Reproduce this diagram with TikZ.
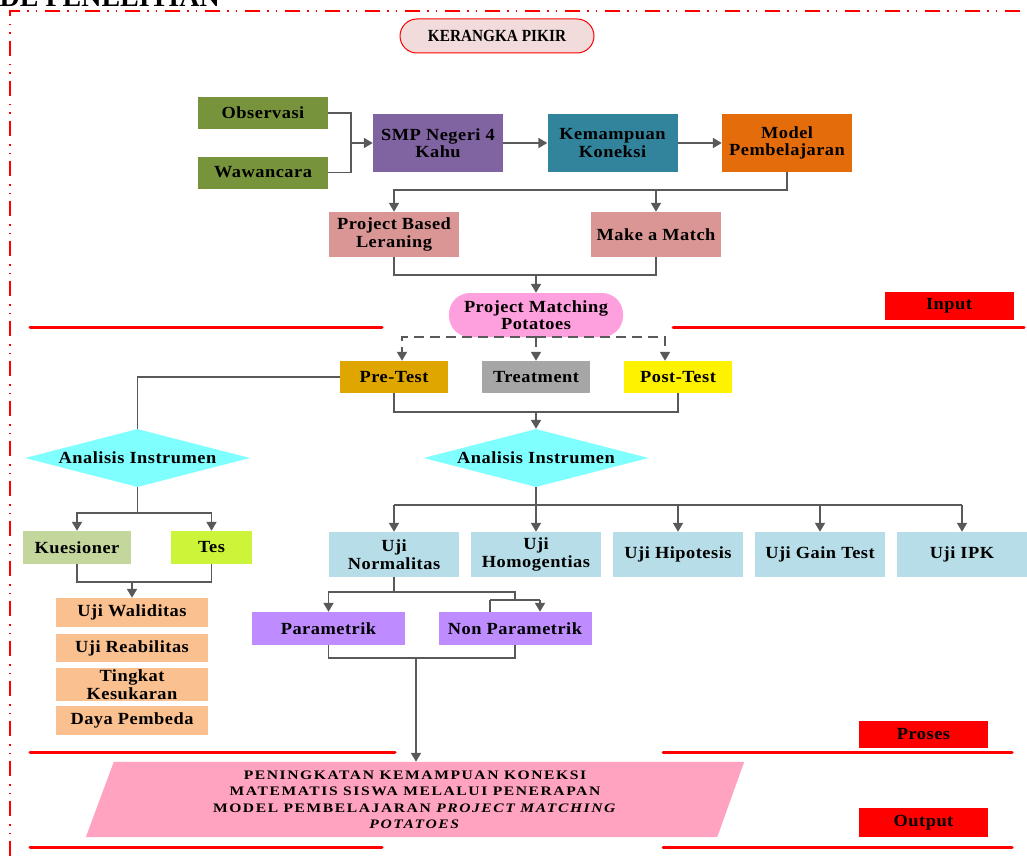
\documentclass[tikz,border=0pt]{standalone}
\usepackage{fontspec}
\setmainfont{Liberation Serif}
\newfontfamily\boxfont{Liberation Serif}[FakeStretch=1.08, LetterSpace=3]
\newfontfamily\titlefont{Liberation Serif}[FakeStretch=0.9]
\newfontfamily\outfont{Liberation Serif}[FakeStretch=1.2, LetterSpace=12]
\usepackage{tikz}
\usetikzlibrary{shapes.geometric, arrows.meta, backgrounds}

\definecolor{olivegreen}{RGB}{119,147,60}
\definecolor{violetbox}{RGB}{128,100,162}
\definecolor{tealbox}{RGB}{49,132,155}
\definecolor{orangebox}{RGB}{228,108,10}
\definecolor{rosebox}{RGB}{217,150,148}
\definecolor{pinkpmp}{RGB}{255,160,222}
\definecolor{goldbox}{RGB}{224,166,0}
\definecolor{greybox}{RGB}{166,166,166}
\definecolor{cyanbox}{RGB}{128,255,255}
\definecolor{sagebox}{RGB}{195,214,155}
\definecolor{limebox}{RGB}{204,245,58}
\definecolor{tanbox}{RGB}{250,192,144}
\definecolor{skybox}{RGB}{183,222,232}
\definecolor{lilacbox}{RGB}{190,140,255}
\definecolor{outpink}{RGB}{255,163,192}
\definecolor{titlepink}{RGB}{242,220,219}
\definecolor{linegrey}{RGB}{89,89,89}

\begin{document}
\begin{tikzpicture}[
        x=1pt, y=-1pt,
        box/.style={rectangle, inner sep=1pt, align=center, text=black,
          font=\boxfont\bfseries\fontsize{17}{17.5}\selectfont},
        srcbox/.style={box, fill=olivegreen, minimum width=130pt, minimum height=32pt},
        topbox/.style={box, minimum width=130pt, minimum height=58pt},
        midbox/.style={box, fill=rosebox, minimum width=130pt, minimum height=45pt},
        testbox/.style={box, minimum width=108pt, minimum height=32pt},
        diam/.style={diamond, fill=cyanbox, aspect=3.88, inner sep=0pt,
          minimum width=225pt, minimum height=58pt, align=center,
          font=\boxfont\bfseries\fontsize{17}{17.5}\selectfont},
        tanrow/.style={box, fill=tanbox, minimum width=152pt},
        ujibox/.style={box, fill=skybox, minimum width=130pt, minimum height=45pt},
        lilac/.style={box, fill=lilacbox, minimum width=153pt, minimum height=33pt},
        tag/.style={box, fill=red, minimum width=129pt, minimum height=28pt},
        line/.style={draw=linegrey, line width=1.8pt},
        arrow/.style={line, -{Triangle[width=10pt, length=9pt]}},
        darrow/.style={arrow, dash pattern=on 10pt off 6pt},
        redline/.style={draw=red, line width=3pt, line cap=round},
        border/.style={draw=red, line width=1.8pt,
          dash pattern=on 15pt off 7pt on 1.5pt off 7pt on 1.5pt off 8pt}]

      \clip (0,0) rectangle (1027,856);

      \node[anchor=base east, inner sep=0pt, font=\bfseries\fontsize{28}{30}\selectfont] (head) at (220,7) {METODE PENELITIAN};
      \draw[border] (10,856) -- (10,11) -- (1040,11);

      \node[rectangle, rounded corners=17pt, draw=red, line width=1pt, fill=titlepink,
        minimum width=194pt, minimum height=34pt,
        font=\titlefont\bfseries\fontsize{17}{18}\selectfont] (title) at (497,36) {KERANGKA PIKIR};

      \node[srcbox] (obs) at (263,113) {Observasi};
      \node[srcbox] (waw) at (263,172.5) {Wawancara};

      \node[topbox, fill=violetbox] (smp) at (438,143) {SMP Negeri 4\\Kahu};
      \node[topbox, fill=tealbox] (kon) at (612.5,143) {Kemampuan\\Koneksi};
      \node[topbox, fill=orangebox] (mod) at (787,143) {Model\\Pembelajaran};

      \node[midbox] (pbl) at (394,234.5) {Project Based\\Leraning};
      \node[midbox] (mam) at (656,234.5) {Make a Match};

      \node[box, fill=pinkpmp, rounded corners=21pt, minimum width=174pt, minimum height=44pt] (pmp) at (536,315) {Project Matching\\Potatoes};

      \node[testbox, fill=goldbox] (pre) at (394,377) {Pre-Test};
      \node[testbox, fill=greybox] (treat) at (536,377) {Treatment};
      \node[testbox, fill=yellow] (post) at (678,377) {Post-Test};

      \node[diam] (ai1) at (137.5,458) {Analisis Instrumen};
      \node[diam] (ai2) at (536,458) {Analisis Instrumen};

      \node[box, fill=sagebox, minimum width=108pt, minimum height=33pt] (kues) at (77,547.5) {Kuesioner};
      \node[box, fill=limebox, minimum width=81pt, minimum height=33pt] (tes) at (211.5,547.5) {Tes};

      \node[tanrow, minimum height=29pt] (wal) at (132,612.5) {Uji Waliditas};
      \node[tanrow, minimum height=28pt] (rea) at (132,648) {Uji Reabilitas};
      \node[tanrow, minimum height=33pt] (ting) at (132,684.5) {Tingkat\\Kesukaran};
      \node[tanrow, minimum height=29pt] (daya) at (132,720.5) {Daya Pembeda};

      \node[ujibox] (un) at (394,554.5) {Uji\\Normalitas};
      \node[ujibox] (uh) at (536,554.5) {Uji\\Homogentias};
      \node[ujibox] (uhip) at (678,554.5) {Uji Hipotesis};
      \node[ujibox] (ugain) at (820,554.5) {Uji Gain Test};
      \node[ujibox] (ipk) at (962,554.5) {Uji IPK};

      \node[lilac] (par) at (328.5,628.5) {Parametrik};
      \node[lilac] (npar) at (515,628.5) {Non Parametrik};

      \node[rectangle, inner sep=0pt, align=center, minimum width=630pt, minimum height=75pt,
        font=\outfont\bfseries\fontsize{13}{16.5}\selectfont] (out) at (415,799.5)
        {PENINGKATAN KEMAMPUAN KONEKSI\\MATEMATIS SISWA MELALUI PENERAPAN\\MODEL PEMBELAJARAN \textit{PROJECT MATCHING}\\\textit{POTATOES}};
      \begin{scope}[on background layer]
        \fill[outpink] ([xshift=14pt]out.north west) -- ([xshift=14pt]out.north east)
          -- ([xshift=-13pt]out.south east) -- ([xshift=-14pt]out.south west) -- cycle;
      \end{scope}

      \node[tag] (input) at (949,306) {Input};
      \node[tag, minimum height=27pt] (proses) at (923.5,734.5) {Proses};
      \node[tag, minimum height=29pt] (output) at (923.5,822.5) {Output};

      \draw[redline] (30,327) -- (382,327);
      \draw[redline] (673,327) -- (1024,327);
      \draw[redline] (30,752) -- (395,752);
      \draw[redline] (663,752) -- (1012,752);
      \draw[redline] (30,847) -- (382,847);
      \draw[redline] (663,847) -- (1012,847);

      \coordinate (jin) at (351,143);
      \draw[line] (obs.east) -| (jin);
      \draw[line] (waw.east) -| (jin);
      \draw[arrow] (jin) -- (smp.west);
      \foreach \a/\b in {smp/kon, kon/mod}
        \draw[arrow] (\a.east) -- (\b.west);

      \coordinate (jtop) at (656,190);
      \draw[arrow] (mod.south) |- (jtop) -| (pbl.north);
      \draw[arrow] (jtop) -- (mam.north);
      \coordinate (jpmp) at (536,275);
      \draw[line] (pbl.south) |- (jpmp) -| (mam.south);
      \draw[arrow] (jpmp) -- (pmp.north);

      \coordinate (dl) at (402,339);
      \coordinate (dr) at (665,339);
      \draw[darrow] (pmp.south) -| (dl |- pre.north);
      \draw[darrow] (pmp.south) -| (dr |- post.north);
      \draw[darrow] (pmp.south) -- (treat.north);

      \coordinate (jtest) at (536,412);
      \draw[line] (pre.south) |- (jtest) -| (post.south);
      \draw[arrow] (jtest) -- (ai2.north);
      \draw[line] (pre.west) -| (ai1.north);

      \coordinate (jleft) at (137.5,513);
      \draw[line] (ai1.south) -- (jleft);
      \foreach \t in {kues, tes}
        \draw[arrow] (jleft) -| (\t.north);
      \coordinate (jkt) at (132,582);
      \draw[line] (kues.south) |- (jkt) -| (tes.south);
      \draw[arrow] (jkt) -- (wal.north);

      \coordinate (jbus) at (536,505);
      \draw[line] (ai2.south) -- (jbus);
      \draw[line] (un.north |- jbus) -- (ipk.north |- jbus);
      \foreach \t in {un, uh, uhip, ugain, ipk}
        \draw[arrow] (\t.north |- jbus) -- (\t.north);

      \coordinate (jn) at (394,592);
      \coordinate (jnl) at (490,600);
      \coordinate (jnr) at (540,600);
      \draw[line] (un.south) -- (jn);
      \draw[arrow] (jn) -| (par.north);
      \draw[line] (jn) -| (515,600);
      \draw[line] (jnl) -- (jnr);
      \draw[arrow] (jnr) -- (jnr |- npar.north);
      \draw[line] (jnl) -- (jnl |- npar.north);

      \coordinate (jout) at (416,658);
      \draw[line] (par.south) |- (jout) -| (npar.south);
      \draw[arrow] (jout) -- (out.north -| jout);

    \end{tikzpicture}
\end{document}
